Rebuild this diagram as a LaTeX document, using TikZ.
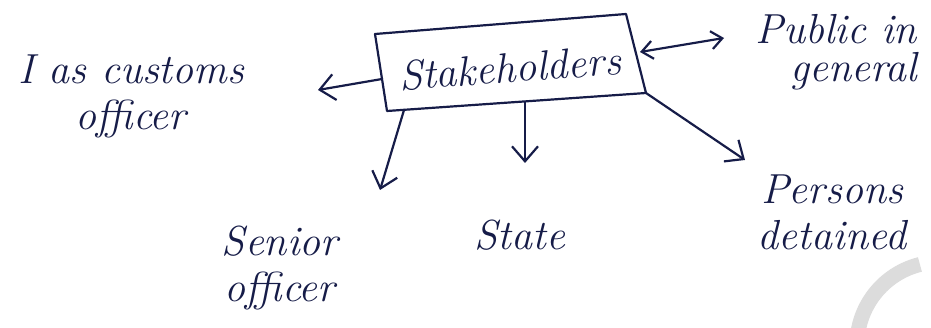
\documentclass[tikz,border=0pt]{standalone}
\usetikzlibrary{arrows.meta}
\definecolor{ink}{RGB}{22,28,72}
\definecolor{wm}{RGB}{220,220,220}
\begin{document}
\begin{tikzpicture}[x=1pt,y=-1pt,line cap=round,line join=round,
  pen/.style={draw=ink,line width=2.2pt},
  barb/.tip={Straight Barb[length=15pt,width=26pt]},
  sbarb/.tip={Straight Barb[length=11pt,width=18pt]},
  arr/.style={pen,-barb},
  lbl/.style={text=ink,font=\fontsize{42}{46}\selectfont\itshape,inner sep=0pt}]
\useasboundingbox (0,0) rectangle (931,328);
% watermark ring
\begin{scope}
  \clip (0,0) rectangle (931,328);
  \draw[wm,line width=15pt,line cap=butt] (940,345) ++(180:83) arc[start angle=180,end angle=256,radius=83];
\end{scope}
% box
\coordinate (tl) at (375,34);
\coordinate (tr) at (626,14);
\coordinate (br) at (646,93);
\coordinate (bl) at (387,111);
\draw[pen] (tl) -- (tr) -- (br) -- (bl) -- cycle;
\node[lbl,rotate=4] (st) at (510,68) {Stakeholders};
% edge points
\coordinate (eL) at (382,79);
\coordinate (eR) at (640,52);
\coordinate (eSe) at (404,110);
\coordinate (eSt) at (525,102);
% tips
\coordinate (tL) at (318,90);
\coordinate (tR) at (724,38);
\coordinate (tSe) at (380,190);
\coordinate (tSt) at (525,163);
\coordinate (tP) at (745,160);
% labels
\node[lbl,align=center] (cust) at (131,96) {I as customs\\officer};
\node[lbl,align=right,anchor=east] (pub) at (917,52) {Public in\\[-8pt]general};
\node[lbl,align=center] (per) at (832,212) {Persons\\detained};
\node[lbl,align=center] (sen) at (280,268) {Senior\\officer};
\node[lbl,anchor=base] (sta) at (520,250) {State};
% connectors
\draw[arr] (eL) -- (tL);
\draw[pen,sbarb-sbarb] (eR) -- (tR);
\draw[arr] (eSe) -- (tSe);
\draw[arr] (eSt) -- (tSt);
\draw[arr] (br) -- (tP);
\end{tikzpicture}
\end{document}
